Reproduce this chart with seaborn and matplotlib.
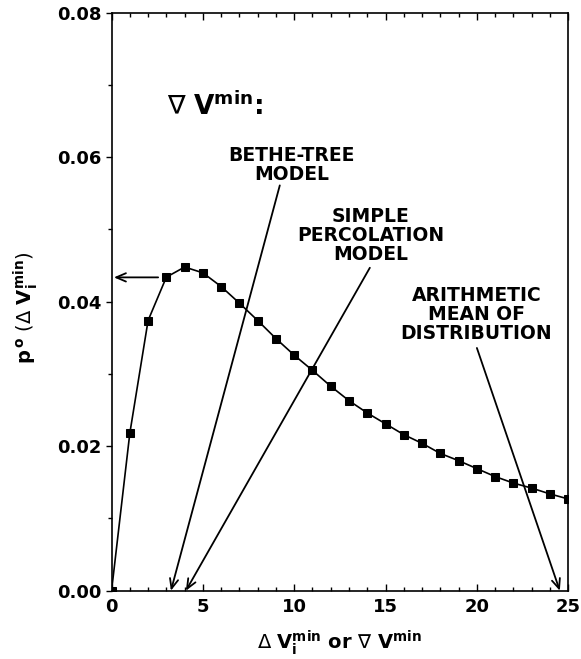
import matplotlib
matplotlib.use("Agg")
import matplotlib.pyplot as plt
import seaborn as sns
import pandas as pd
from matplotlib.ticker import MultipleLocator, FormatStrFormatter

# ---- data ----
dv_min = list(range(0, 26))
p0 = [0.0, 0.0218, 0.0374, 0.0434, 0.0448, 0.0440, 0.0421, 0.0398, 0.0374,
      0.0349, 0.0326, 0.0305, 0.0283, 0.0263, 0.0246, 0.0231, 0.0216, 0.0204,
      0.0190, 0.0180, 0.0169, 0.0158, 0.0149, 0.0142, 0.0134, 0.0127]

x_ticks = [0, 5, 10, 15, 20, 25]
y_ticks = [0.00, 0.02, 0.04, 0.06, 0.08]

labels = ["BETHE-TREE\nMODEL", "SIMPLE\nPERCOLATION\nMODEL",
          "ARITHMETIC\nMEAN OF\nDISTRIBUTION"]
label_pos = [(9.87, 0.0589), (14.19, 0.0492), (19.98, 0.0383)]
arrow_from = [(9.21, 0.0561), (14.14, 0.0447), (20.0, 0.0336), (2.55, 0.04337)]
arrow_to = [(3.25, 0.0), (4.07, 0.0), (24.54, 0.0), (0.13, 0.04337)]

df = pd.DataFrame({"x": dv_min, "y": p0})

sns.set_style("ticks")
plt.rcParams["font.family"] = ["DejaVu Sans"]
plt.rcParams["mathtext.fontset"] = "dejavusans"
plt.rcParams["text.color"] = "black"
plt.rcParams["axes.labelcolor"] = "black"
plt.rcParams["xtick.color"] = "black"
plt.rcParams["ytick.color"] = "black"

fig = plt.figure(figsize=(5.81, 6.59), dpi=100)
ax = fig.add_axes([0.192, 0.1036, 0.978 - 0.192, 0.9807 - 0.1036])

sns.lineplot(data=df, x="x", y="y", ax=ax, color="black", lw=1.2,
             marker="s", markersize=6, markeredgecolor="black",
             markerfacecolor="black")

ax.set_xlim(0, 25)
ax.set_ylim(0, 0.08)
ax.set_xticks(x_ticks)
ax.set_yticks(y_ticks)
ax.xaxis.set_minor_locator(MultipleLocator(1))
ax.yaxis.set_minor_locator(MultipleLocator(0.01))
ax.yaxis.set_major_formatter(FormatStrFormatter("%.2f"))

for s in ax.spines.values():
    s.set_visible(True)
    s.set_color("black")
    s.set_linewidth(1.2)

ax.tick_params(axis="x", which="both", direction="in", top=True, bottom=True,
               labelsize=13, pad=5, colors="black")
ax.tick_params(axis="x", which="major", length=5, width=1)
ax.tick_params(axis="x", which="minor", length=3, width=1)
ax.tick_params(axis="y", which="both", direction="out", left=True, right=False,
               labelsize=13, pad=3, colors="black")
ax.tick_params(axis="y", which="major", length=4, width=1)
ax.tick_params(axis="y", which="minor", length=3, width=1)
for t in ax.get_xticklabels() + ax.get_yticklabels():
    t.set_fontweight("bold")

ax.set_xlabel(r"$\Delta\ \mathbf{V}_{\mathbf{i}}^{\mathbf{min}}$ or "
              r"$\nabla\ \mathbf{V}^{\mathbf{min}}$",
              fontsize=14, fontweight="bold", labelpad=9, color="black")
ax.set_ylabel(r"$\mathbf{p}^{\,\mathbf{o}}\ (\Delta\ \mathbf{V}_{\mathbf{i}}^{\mathbf{min}})$",
              fontsize=14, fontweight="bold", color="black")
ax.yaxis.set_label_coords(-0.157, 0.49)

ax.text(3.03, 0.0658, r"$\nabla\ \mathbf{V}^{\mathbf{min}}$:", fontsize=19,
        fontweight="bold", ha="left", va="baseline", color="black")

for txt, (tx, ty) in zip(labels, label_pos):
    ax.text(tx, ty, txt, fontsize=13.5, fontweight="bold", ha="center",
            va="center", linespacing=1.0, color="black")

for (x0, y0), (x1, y1) in zip(arrow_from, arrow_to):
    ax.annotate("", xy=(x1, y1), xytext=(x0, y0),
                arrowprops=dict(arrowstyle="->,head_length=0.7,head_width=0.3",
                                lw=1.3, color="black", shrinkA=0, shrinkB=0))

ax.set_facecolor("white")
fig.savefig("out.png", dpi=100, facecolor="white")
